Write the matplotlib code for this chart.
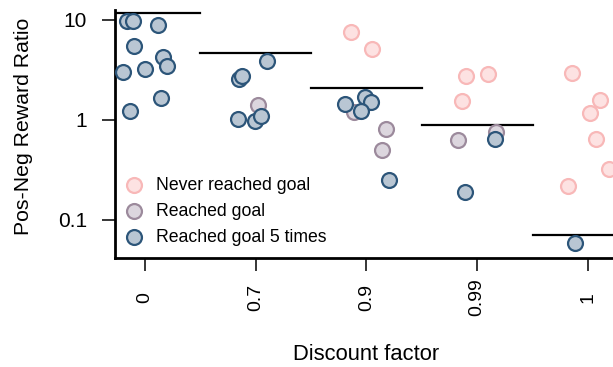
"""
plot.py

Strip plot of the positive/negative reward ratio for each discount factor,
coloured by how often the agent reached the goal, with a horizontal line
marking the group summary value.
"""

import matplotlib
matplotlib.use('Agg')
import numpy as np
import matplotlib.pyplot as plt
from matplotlib.ticker import FixedLocator, NullLocator

plt.rcParams['font.family'] = ['Liberation Sans', 'DejaVu Sans']

# Discount factor categories (x axis)
categories = ['0', '0.7', '0.9', '0.99', '1']

# Summary line per category
group_line = [11.7, 4.68, 2.09, 0.89, 0.071]

# Never reached goal
never_cat = [2, 2, 3, 3, 3, 4, 4, 4, 4, 4, 4]
never_val = [7.6, 5.1, 2.75, 2.9, 1.55, 2.95, 1.58, 1.17, 0.65, 0.32, 0.22]
never_jit = [-0.14, 0.05, -0.10, 0.10, -0.14, -0.14, 0.11, 0.02, 0.07, 0.19, -0.18]

# Reached goal
reached_cat = [1, 2, 2, 2, 3, 3]
reached_val = [1.41, 1.20, 0.81, 0.50, 0.63, 0.76]
reached_jit = [0.02, -0.11, 0.18, 0.14, -0.17, 0.17]

# Reached goal 5 times
five_cat = [0, 0, 0, 0, 0, 0, 0, 0, 0, 0,
            1, 1, 1, 1, 1, 1,
            2, 2, 2, 2, 2,
            3, 3,
            4]
five_val = [9.77, 9.77, 8.91, 5.5, 3.02, 3.24, 4.27, 3.47, 1.66, 1.23,
            3.89, 2.57, 2.75, 1.02, 0.977, 1.10,
            1.45, 1.70, 1.51, 1.23, 0.25,
            0.65, 0.19,
            0.059]
five_jit = [-0.16, -0.11, 0.12, -0.10, -0.20, 0.0, 0.16, 0.20, 0.14, -0.14,
            0.10, -0.15, -0.12, -0.16, -0.01, 0.05,
            -0.19, -0.01, 0.04, -0.05, 0.20,
            0.16, -0.11,
            -0.12]

yticks = [0.1, 1, 10]
ytick_labels = ['0.1', '1', '10']


def draw_group(ax, cats, vals, jit, face, edge, label):
    """Scatter one outcome group at category index + jitter."""
    x = np.asarray(cats, dtype=float) + np.asarray(jit)
    ax.scatter(x, vals, s=115, facecolor=face, edgecolor=edge,
               linewidths=1.6, label=label, zorder=3, clip_on=False)


fig = plt.figure(figsize=(6.13, 3.67), dpi=100)
# axes run a little past the right border, like the cropped original
ax = fig.add_axes([0.1876, 0.297, 1.008 - 0.1876, 0.9728 - 0.297])

draw_group(ax, never_cat, never_val, never_jit, '#fde2e2', '#f8b8b8', 'Never reached goal')
draw_group(ax, reached_cat, reached_val, reached_jit, '#dcd6de', '#9c8a9c', 'Reached goal')
draw_group(ax, five_cat, five_val, five_jit, '#b9c6d3', '#2c5579', 'Reached goal 5 times')

# summary lines spanning each category slot
for i, v in enumerate(group_line):
    ax.plot([i - 0.5, i + 0.5], [v, v], color='black', linewidth=1.6, zorder=2)

ax.set_yscale('log')
ax.set_ylim(10 ** -1.38, 10 ** 1.1)
ax.set_xlim(-0.271, 4.271)

ax.yaxis.set_major_locator(FixedLocator(yticks))
ax.yaxis.set_minor_locator(NullLocator())
ax.set_yticklabels(ytick_labels)
ax.set_xticks(range(len(categories)))
ax.set_xticklabels(categories, rotation=90, va='center')

ax.tick_params(axis='both', direction='out', length=9.5, width=1.1)
ax.tick_params(axis='x', labelsize=14, pad=19)
ax.tick_params(axis='y', labelsize=15, pad=10.5)

for side in ['top', 'right']:
    ax.spines[side].set_visible(False)
for side in ['left', 'bottom']:
    ax.spines[side].set_linewidth(2.0)

ax.set_xlabel('Discount factor', fontsize=15.8)
ax.set_ylabel('Pos-Neg Reward Ratio', fontsize=15.3)
ax.xaxis.set_label_coords(0.5, -0.347)
ax.yaxis.set_label_coords(-0.163, 0.532)

ax.legend(loc='lower left', bbox_to_anchor=(-0.008, -0.008), frameon=False,
          fontsize=12.7, handlelength=1.0, handletextpad=0.75,
          labelspacing=0.52, borderaxespad=0.4, scatterpoints=1)

fig.savefig('out.png', dpi=100)
plt.close(fig)
